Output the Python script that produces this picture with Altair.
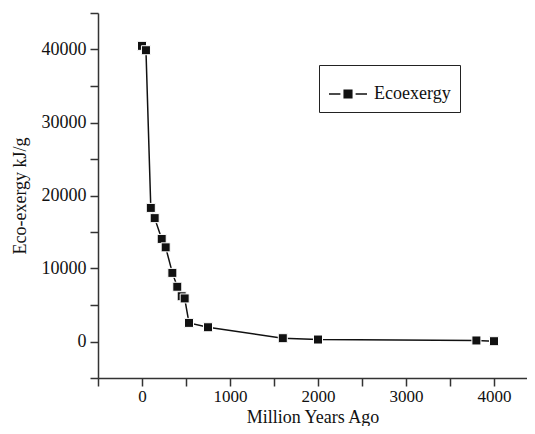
import altair as alt
import pandas as pd

years = [0, 45, 100, 144, 224, 269, 345, 401, 451, 485, 534, 750, 1600, 2000, 3800, 4000]
ecoexergy = [40500, 39900, 18300, 16900, 14050, 12900, 9400, 7500, 6200, 5900, 2550, 1950, 450, 270, 140, 40]
series = ["Ecoexergy"] * len(years)

df = pd.DataFrame({"years": years, "ecoexergy": ecoexergy, "series": series})

FONT = "Liberation Serif"
legend_path = ("M-1,0L-0.4,0M0.4,0L1,0"
               "M-0.2,-0.2L0.2,-0.2L0.2,0.2L-0.2,0.2Z")

x = alt.X("years:Q", title="Million Years Ago",
          scale=alt.Scale(domain=[-500, 4375], nice=False, zero=False),
          axis=alt.Axis(values=list(range(-500, 4376, 500)), format="d",
                        labelExpr="datum.value % 1000 == 0 ? datum.label : ''",
                        grid=False, titleY=44, titleBaseline="alphabetic",
                        labelFontSize=17, labelPadding=2))
y = alt.Y("ecoexergy:Q", title="Eco-exergy kJ/g",
          scale=alt.Scale(domain=[-5000, 45000], nice=False, zero=False),
          axis=alt.Axis(values=list(range(-5000, 45001, 5000)), format="d",
                        labelExpr="datum.value % 10000 == 0 ? datum.label : ''",
                        grid=False))

line = alt.Chart(df).mark_line(strokeWidth=1.5).encode(
    x=x, y=y,
    color=alt.Color("series:N", title=None,
                    scale=alt.Scale(range=["#111111"]),
                    legend=alt.Legend(orient="none", legendX=221, legendY=52,
                                      symbolType=legend_path, symbolSize=1444,
                                      symbolStrokeWidth=1.5,
                                      symbolFillColor="#111111",
                                      symbolStrokeColor="#111111",
                                      labelFont=FONT, labelFontSize=18,
                                      labelColor="#111111",
                                      strokeColor="#222222",
                                      padding=9, labelOffset=6)),
)

points = alt.Chart(df).mark_square(size=81, opacity=1, color="#111111",
                                   stroke="white", strokeWidth=1).encode(
    x=x, y=y)

chart = alt.layer(line, points).properties(
    width=429, height=365,
    autosize=alt.AutoSizeParams(type="none"),
    padding={"left": 90, "top": 5, "right": 0, "bottom": 48},
).configure_view(stroke=None).configure_axis(
    labelFont=FONT, titleFont=FONT, labelFontSize=18, titleFontSize=18,
    titleFontWeight="normal", labelColor="#111111", titleColor="#111111",
    domainColor="#333333", tickColor="#333333", domainWidth=1.5, tickWidth=1.5,
    tickSize=8,
).configure_axisY(titlePadding=12, labelPadding=4)

chart.save("out.html", embed_options={"renderer": "svg", "actions": False})
